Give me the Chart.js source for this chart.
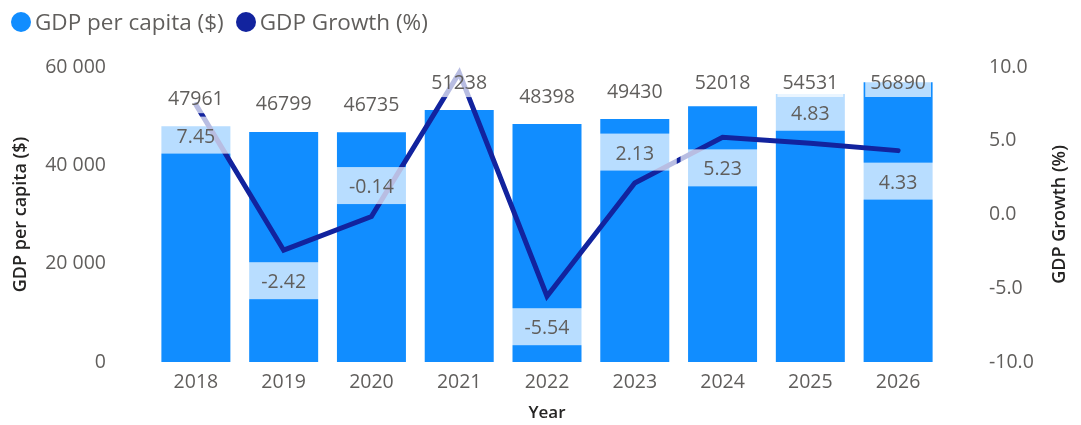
<!DOCTYPE html>
<html>
<head>
<meta charset="utf-8">
<title>GDP per capita and growth</title>
<script src="https://cdn.jsdelivr.net/npm/chart.js@4.4.1/dist/chart.umd.min.js"></script>
<style>
  html, body { margin: 0; padding: 0; background: #fff; }
  #wrap { position: relative; width: 1081px; height: 425px; }
  #legend {
    position: absolute; left: 11px; top: 6px; display: flex;
    font-family: "Segoe UI", "Open Sans", sans-serif; font-size: 22.5px; color: #605e5c;
  }
  .item { display: flex; align-items: center; margin-right: 12px; }
  .dot { width: 20px; height: 20px; border-radius: 50%; margin-right: 4px; }
</style>
</head>
<body>
<div id="wrap">
  <div id="legend"></div>
  <canvas id="myChart" width="1081" height="425"></canvas>
</div>
<script>
const years = ["2018", "2019", "2020", "2021", "2022", "2023", "2024", "2025", "2026"];
const gdpPerCapita = [47961, 46799, 46735, 51238, 48398, 49430, 52018, 54531, 56890];
const gdpGrowth = [7.45, -2.42, -0.14, 9.6, -5.54, 2.13, 5.23, 4.83, 4.33];
const leftTicks = [0, 20000, 40000, 60000];
const rightTicks = [-10, -5, 0, 5, 10];

const fontFamily = "'Segoe UI', 'Open Sans', sans-serif";
const textGray = "#605e5c";
const titleColor = "#252423";
const barBlue = "#118dff";
const lineBlue = "#12239e";

function spaced(v) {
  return String(v).replace(/\B(?=(\d{3})+(?!\d))/g, " ");
}

function buildLegend() {
  let items = [
    { label: "GDP per capita ($)", color: barBlue },
    { label: "GDP Growth (%)", color: lineBlue },
  ];
  let html = "";
  items.forEach(function (it) {
    html += '<div class="item"><span class="dot" style="background:' + it.color +
      '"></span><span>' + it.label + "</span></div>";
  });
  document.getElementById("legend").innerHTML = html;
}

// value boxes: translucent white, drawn over bars and line
const valueLabels = {
  id: "valueLabels",
  afterDatasetsDraw(chart, args, opts) {
    const ctx = chart.ctx;
    const area = chart.chartArea;
    ctx.save();
    ctx.font = opts.size + "px " + fontFamily;
    ctx.textAlign = "center";
    ctx.textBaseline = "middle";

    chart.getDatasetMeta(0).data.forEach(function (bar, i) {
      let text = String(gdpPerCapita[i]);
      let y = Math.max(bar.y - 28, area.top + 15);
      let w = ctx.measureText(text).width + 10;
      ctx.fillStyle = opts.boxColor;
      ctx.fillRect(bar.x - w / 2, y - 15, w, 30);
      ctx.fillStyle = opts.color;
      ctx.fillText(text, bar.x, y + 1);
    });

    chart.getDatasetMeta(1).data.forEach(function (pt, i) {
      let side = opts.growthSide[i];
      if (!side) return;
      let y = side === "above" ? pt.y - 31 : pt.y + 30.5;
      ctx.fillStyle = opts.boxColor;
      ctx.fillRect(pt.x - 42, y - 18.5, 84, 37);
      ctx.fillStyle = opts.color;
      ctx.fillText(gdpGrowth[i].toFixed(2), pt.x, y + 2);
    });
    ctx.restore();
  },
};

// right axis title reads bottom to top, like the left one
const rightTitle = {
  id: "rightTitle",
  afterDraw(chart, args, opts) {
    const ctx = chart.ctx;
    const area = chart.chartArea;
    ctx.save();
    ctx.translate(opts.x, (area.top + area.bottom) / 2);
    ctx.rotate(-Math.PI / 2);
    ctx.font = "600 18px " + fontFamily;
    ctx.fillStyle = titleColor;
    ctx.textAlign = "center";
    ctx.textBaseline = "middle";
    ctx.fillText(opts.text, 0, 0);
    ctx.restore();
  },
};

function createChart() {
  let ctx = document.getElementById("myChart").getContext("2d");
  return new Chart(ctx, {
    type: "bar",
    data: {
      labels: years,
      datasets: [
        {
          type: "bar",
          label: "GDP per capita ($)",
          data: gdpPerCapita,
          backgroundColor: barBlue,
          yAxisID: "y",
          barPercentage: 1,
          categoryPercentage: 0.786,
          order: 2,
        },
        {
          type: "line",
          label: "GDP Growth (%)",
          data: gdpGrowth,
          borderColor: lineBlue,
          borderWidth: 5,
          borderCapStyle: "round",
          borderJoinStyle: "miter",
          pointRadius: 0,
          tension: 0,
          yAxisID: "y1",
          order: 1,
        },
      ],
    },
    options: {
      responsive: false,
      animation: false,
      layout: { padding: { top: 67, left: 0, right: 0, bottom: 0 } },
      plugins: {
        legend: { display: false },
        tooltip: { enabled: false },
        valueLabels: {
          size: 19.5,
          color: textGray,
          boxColor: "rgba(255, 255, 255, 0.7)",
          growthSide: ["below", "below", "above", null, "below", "above", "below", "above", "below"],
        },
        rightTitle: { text: "GDP Growth (%)", x: 1060 },
      },
      scales: {
        x: {
          grid: { display: false, drawTicks: false },
          border: { display: false },
          ticks: { color: textGray, font: { family: fontFamily, size: 19.5 }, padding: 9 },
          title: {
            display: true,
            text: "Year",
            color: titleColor,
            font: { family: fontFamily, size: 17, weight: "600" },
            padding: { top: 0, bottom: 2 },
          },
          afterFit(scale) { scale.height = 63; },
        },
        y: {
          position: "left",
          min: leftTicks[0],
          max: leftTicks[leftTicks.length - 1],
          grid: { display: false, drawTicks: false },
          border: { display: false },
          afterBuildTicks(scale) { scale.ticks = leftTicks.map(v => ({ value: v })); },
          ticks: {
            color: textGray,
            font: { family: fontFamily, size: 19.5 },
            padding: 46,
            callback: v => spaced(v),
          },
          title: {
            display: true,
            text: "GDP per capita ($)",
            color: titleColor,
            font: { family: fontFamily, size: 18, weight: "600" },
            padding: { top: 10, bottom: 0 },
          },
          afterFit(scale) { scale.width = 152; },
        },
        y1: {
          position: "right",
          min: rightTicks[0],
          max: rightTicks[rightTicks.length - 1],
          grid: { display: false, drawTicks: false },
          border: { display: false },
          afterBuildTicks(scale) { scale.ticks = rightTicks.map(v => ({ value: v })); },
          ticks: {
            color: textGray,
            font: { family: fontFamily, size: 19.5 },
            padding: 47,
            callback: v => v.toFixed(1),
          },
          afterFit(scale) { scale.width = 139; },
        },
      },
    },
    plugins: [valueLabels, rightTitle],
  });
}

buildLegend();
createChart();
</script>
</body>
</html>
